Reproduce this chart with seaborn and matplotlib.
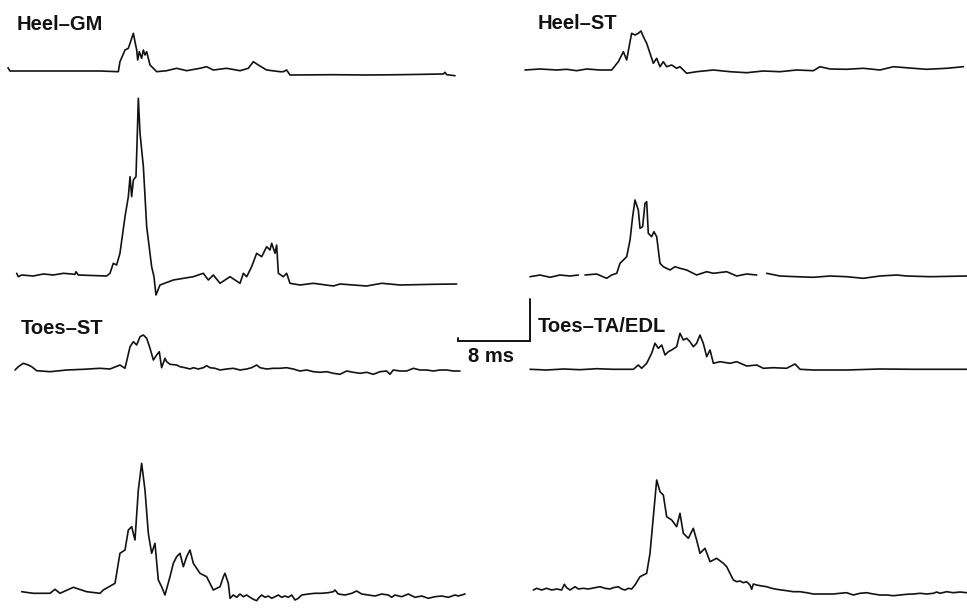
import numpy as np
import pandas as pd
import matplotlib
matplotlib.use("Agg")
import matplotlib.pyplot as plt
import seaborn as sns

# ---------------- data (time in ms from column origin, amplitude in a.u.) ----------------
heel_gm_a_t = [0, 0.22, 2.81, 10.22, 12.26, 12.44, 13.0, 13.37, 13.56, 13.93, 14.11, 14.30, 14.41, 14.59,
               14.85, 15.04, 15.22, 15.41, 15.59, 15.78, 16.15, 16.52, 17.63, 18.74, 19.85, 21.33, 22.07,
               22.81, 24.30, 25.78, 26.70, 27.26, 27.81, 28.74, 30.22, 30.59, 30.96, 31.33, 36.15, 39.85,
               43.56, 48.37, 48.56, 48.74, 49.67]
heel_gm_a_v = [3.3, 0, 0, 0, -0.7, 9.3, 21, 22.7, 27.7, 37.7, 29.3, 21, 11, 19.3,
               12.7, 21, 16, 19.3, 12.7, 6, 2.7, -0.7, 0.3, 2.7, 0.3, 2.7, 4.3,
               1, 2.7, 0.3, 2.7, 9.3, 6, 1, -0.7, -0.7, 1, -4, -3.7, -4,
               -3.7, -3, -1.3, -3.7, -4.7]

heel_gm_b_t = [0.96, 1.15, 1.52, 2.81, 3.93, 5.04, 6.15, 7.44, 7.56, 7.81, 10.96, 11.33, 11.70, 12.07,
               12.44, 13.0, 13.37, 13.56, 13.74, 13.93, 14.22, 14.37, 14.48, 14.67, 15.04, 15.41, 15.96,
               16.22, 16.44, 16.89, 18.37, 20.59, 21.70, 22.26, 22.81, 23.56, 24.67, 25.78, 26.15, 26.52,
               27.07, 27.63, 28.19, 28.74, 29.11, 29.30, 29.67, 29.85, 30.04, 30.59, 30.96, 31.33, 32.44,
               33.93, 36.15, 36.89, 39.85, 41.52, 43.56, 47.26, 49.85]
heel_gm_b_v = [1.7, -1.7, 0, -1, 1, 0, 1.7, 0.7, 3.3, 0, -1, 1.7, 11.7, 10,
               21.7, 58.3, 78.3, 98.3, 78.3, 95, 98.3, 141.7, 176.7, 141.7, 108.3, 48.3, 8.3,
               -1.7, -20, -10, -5, -1.7, 1.7, -5, 0, -8.3, -1.7, -8.3, 1.7, -1.7,
               8.3, 21.7, 18.3, 28.3, 25, 31.7, 21.7, 30, 1.7, -1.7, 1.7, -8.3, -10,
               -8.3, -11, -9, -11, -8.3, -10, -9.3, -9]

heel_st_a_t = [0, 1.67, 3.52, 4.63, 5.74, 6.85, 8.33, 9.63, 10.37, 10.93, 11.30, 11.67, 11.85, 12.22,
               12.59, 12.89, 13.15, 13.52, 13.89, 14.26, 14.63, 15.0, 15.37, 15.74, 16.30, 16.85, 17.22,
               17.96, 19.07, 20.93, 22.78, 24.63, 26.48, 28.33, 30.19, 32.04, 32.78, 33.89, 35.74, 37.59,
               39.44, 40.93, 43.15, 44.63, 46.85, 48.70]
heel_st_a_v = [0, 1, 0, 0.7, -0.7, 1, 0, 0, 8.3, 18.3, 10, 28.3, 36.7, 35,
               36.7, 39, 33.3, 26.7, 16.7, 6.7, 11.7, 3.3, 8.3, 3.3, 5, 1.7, 3.3,
               -3.3, -1.7, 0, -1.7, -2.7, -1, -1.7, 0, -0.7, 3.3, 1, 0.7, 1.7,
               0, 3.3, 1.7, 0.7, 1.7, 3.3]

heel_st_b_t = [0.56, 1.67, 2.78, 3.89, 5.0, 5.93, np.nan,
               6.67, 7.96, 9.07, 9.63, 10.19, 10.56, 10.93, 11.30, 11.67, 11.96, 12.22, 12.59, 12.78,
               13.07, 13.33, 13.52, 13.70, 14.07, 14.33, 14.63, 15.0, 15.37, 16.11, 16.67, 17.22, 17.96,
               19.07, 20.19, 20.93, 22.41, 23.52, 24.63, 25.74, np.nan,
               26.85, 28.33, 30.19, 32.04, 33.89, 35.74, 37.59, 39.44, 41.30, 42.41, 45.0, 49.07]
heel_st_b_v = [-0.7, 1, -1.3, 1, 0, 1, np.nan,
               1, 2, -2.3, 1, 2.7, 12.7, 16, 19.3, 36, 59.3, 76, 66, 47.7,
               49.3, 72.7, 74.3, 42.7, 39.3, 44.3, 39.3, 12.7, 9.3, 6, 9.3, 7.7, 6,
               1, 4.3, 2.7, 4.3, 0, 2, 1, np.nan,
               2.7, 0, -0.7, -1.3, 0, -0.7, -2.3, 0, 1, 0, -0.7, 0]

toes_st_a_t = [0.78, 1.15, 1.70, 2.26, 2.63, 3.19, 4.67, 6.52, 8.37, 10.22, 11.33, 12.44, 13.0, 13.56,
               13.93, 14.30, 14.67, 15.04, 15.41, 15.78, 16.15, 16.52, 16.81,
               17.07, 17.44, 17.63, 18.0, 18.74, 19.11, 19.67, 20.22, 20.59, 21.15, 21.70, 22.07, 22.44,
               23.0, 23.56, 24.30, 25.04, 25.78, 26.52, 27.07, 27.63, 28.0, 28.74, 29.48, 30.22, 30.96,
               31.70, 32.44, 33.19, 33.93, 34.67, 35.41, 36.15, 36.89, 37.63, 38.37, 39.11, 39.85, 40.59,
               41.33, 42.07, 42.44, 42.81, 43.56, 44.30, 45.04, 45.78, 46.52, 47.26, 48.0, 48.74, 49.48,
               50.22]
toes_st_a_v = [0, 3.3, 6.7, 5, 3.3, -0.7, -1.7, 0, 0.7, 1.7, 1, 5, 1.7, 23.3,
               28.3, 25, 33.3, 35, 31.7, 21.7, 10, 15, 18.3,
               2.3, 11.7, 8.3, 5.7, 5, 3.3, 2.3, 1, 2.3, 1, 2.3, 4.3, 2.3,
               1.7, 0, 1, 1.7, 0, 1, 2.3, 5, 2.3, 1, 1.7, 1.7, 2.3,
               1, -1, 0, -1.7, -2.3, -1.7, -3.3, -4.3, -1, -2.3, -3.3, -2.3, -4.3,
               -1.7, -1, -4.3, 0, -1, -1, 1.7, 0, 0, -1, 0, 0, -1,
               -1]

toes_st_b_t = [1.52, 2.81, 4.67, 5.22, 5.78, 7.26, 8.74, 10.22, 10.59, 11.89, 12.44, 13.0, 13.37, 13.74,
               14.11, 14.48, 14.85, 15.22, 15.59, 15.96, 16.33, 16.70, 17.07, 17.44, 18.0, 18.37, 18.74,
               19.11, 19.48, 19.85, 20.22, 20.59, 21.33, 22.07, 22.81, 23.56, 23.93, 24.11, 24.48, 24.67,
               25.04, 25.41, 25.78, 26.15, 26.52, 26.89, 27.26, 27.63, 27.81, 28.19, 28.56, 28.93, 29.30,
               29.67, 30.04, 30.41, 30.78, 31.15, 31.52, 31.89, 32.26, 32.63, 33.37, 34.11, 34.85, 35.59,
               36.15, 36.33, 36.70, 37.44, 38.19, 38.74, 39.30, 40.04, 40.78, 41.52, 42.26, 42.63, 43.0,
               43.74, 44.48, 45.22, 45.96, 46.70, 47.44, 48.19, 48.93, 49.67, 50.04, 50.78]
toes_st_b_v = [0.3, -1.3, -1.3, 2.7, -1.3, 4.7, 0.3, -1.3, 2, 8.7, 38.7, 42, 62, 65.3,
               52, 102, 128.7, 102, 58.7, 38.7, 48.7, 12, 5.3, -3, 15.3, 28.7, 35.3,
               38.7, 25.3, 35.3, 42, 28.7, 18.7, 15.3, 2, 5.3, 15.3, 18.7, 8.7, -6.3,
               -3, -5.3, -2, -4.7, -3, -5.3, -7.3, -8.7, -6.3, -3, -5.3, -4, -6.3,
               -4.7, -3, -5.3, -4, -5.3, -3, -8, -6.3, -3, -2, -1.3, -1.3, -0.7,
               0.3, 2, -2, -3, -1.3, 1, -2, -3, -4, -2, -3, -5.3, -3,
               -4.7, -2, -5.3, -4, -6.3, -4.7, -4, -5.3, -3, -4, -2]

toes_ta_a_t = [0.56, 2.41, 4.26, 6.11, 7.96, 9.81, 12.04, 12.59, 12.96, 13.52, 14.07, 14.44, 14.81, 15.19,
               15.56, 15.93, 16.30, 16.85, 17.22, 17.59, 17.96, 18.33, 18.70, 19.07, 19.44, 19.81, 20.19,
               20.56, 20.93, 21.67, 22.78, 23.52, 24.63, 25.74, 26.48, 27.59, 29.07, 30.0, 30.56, 32.04,
               35.74, 39.44, 43.15, 49.07]
toes_ta_a_v = [-0.3, -1, 0, -0.7, 0.3, -0.3, -0.3, 4, 0.7, 5.7, 15.7, 25.7, 20.7, 24,
               14, 17.3, 19, 22.3, 35.7, 29, 30.7, 27.3, 22.3, 25.7, 34, 25.7, 12.3,
               19, 5.7, 7.3, 5.7, 7.3, 3, 4, 0.7, 1.3, 0.7, 5, -0.3, -1,
               -1, 0, -0.3, -0.3]

toes_ta_b_t = [0.93, 1.30, 1.85, 2.41, 2.96, 3.52, 4.07, 4.37, 4.63, 5.0, 5.56, 5.93, 6.48, 7.04,
               7.78, 8.33, 8.89, 9.44, 9.81, 10.37, 10.74, 11.11, 11.48, 11.85, 12.22, 12.78, 13.52,
               13.89, 14.26, 14.63, 15.0, 15.37, 15.74, 16.30, 16.85, 17.22, 17.59, 18.15, 18.70, 19.07,
               19.44, 20.0, 20.56, 21.30, 22.04, 22.41, 23.15, 23.52, 23.89, 24.26, 24.63, 25.0, 25.19,
               25.37, 25.74, 26.30, 26.85, 27.41, 27.96, 28.52, 29.07, 29.81, 30.56, 31.30, 32.04, 32.78,
               33.52, 34.26, 35.0, 35.74, 36.48, 37.22, 37.96, 38.70, 39.44, 40.19, 40.93, 41.67, 42.41,
               43.15, 43.89, 44.63, 45.37, 45.74, 46.11, 46.85, 47.59, 48.33, 49.07]
toes_ta_b_v = [-2, -0.3, -2, -0.3, -2, -1, -2, 3.7, 0.3, -2, 1.3, -1, -0.3, -1,
               0.3, 1.3, -0.3, -1, 0.3, 1.3, -1, -2, -0.3, -1, 3, 11.3, 14.7,
               34.7, 71.3, 108, 96.3, 93, 71.3, 68, 61.3, 74.7, 54.7, 49.7, 59.7, 48,
               34.7, 39.7, 26.3, 29.7, 24.7, 21.3, 8, 6.3, 7, 5.3, 6.3, 3, -1.3,
               4, 3, 2, 1.3, -0.3, -1.3, -2, -2.7, -3.7, -3.7, -4.7, -6, -6,
               -6, -6, -5.3, -4.7, -7, -5.3, -4.7, -6, -7, -7, -7.7, -7, -6.3,
               -6, -5.3, -6, -5.3, -4, -5.3, -3.7, -4.7, -4, -4.7]

panel_labels = ["Heel\u2013GM", "Heel\u2013ST", "Toes\u2013ST", "Toes\u2013TA/EDL"]
scale_time_ms = 8
scale_amp = 42
scale_label = "8 ms"

# ---------------- layout ----------------
W, H = 967, 608
PX_PER_MS = 9.0
LEFT_X0 = 8 / PX_PER_MS
RIGHT_X0 = 525 / PX_PER_MS

traces = [
    (heel_gm_a_t, heel_gm_a_v, LEFT_X0, H - 71),
    (heel_gm_b_t, heel_gm_b_v, LEFT_X0, H - 275),
    (heel_st_a_t, heel_st_a_v, RIGHT_X0, H - 70),
    (heel_st_b_t, heel_st_b_v, RIGHT_X0, H - 276),
    (toes_st_a_t, toes_st_a_v, LEFT_X0, H - 370),
    (toes_st_b_t, toes_st_b_v, LEFT_X0, H - 592),
    (toes_ta_a_t, toes_ta_a_v, RIGHT_X0, H - 369),
    (toes_ta_b_t, toes_ta_b_v, RIGHT_X0, H - 588),
]

sns.set_theme(style="white")
plt.rcParams["font.family"] = ["Liberation Sans", "DejaVu Sans"]

fig = plt.figure(figsize=(W / 100, H / 100), dpi=100)
fig.patch.set_facecolor("white")
ax = fig.add_axes([0, 0, 1, 1])
ax.set_xlim(0, W / PX_PER_MS)
ax.set_ylim(0, H)
ax.axis("off")

INK = "#121212"
for t, v, x0, y0 in traces:
    df = pd.DataFrame({"t": np.asarray(t, float) + x0, "v": np.asarray(v, float) + y0})
    df["seg"] = df["t"].isna().cumsum()
    df = df.dropna()
    sns.lineplot(data=df, x="t", y="v", units="seg", estimator=None, sort=False,
                 color=INK, lw=1.2, ax=ax, legend=False)

# panel labels
label_pos = [(17, 30), (538, 29), (21, 334), (538, 332)]
for lab, (px, py) in zip(panel_labels, label_pos):
    ax.text(px / PX_PER_MS, H - py, lab, fontsize=14.5, fontweight="bold", color=INK,
            va="baseline", ha="left")

# scale bar
sx1 = 530 / PX_PER_MS
sx0 = sx1 - scale_time_ms
sy0 = H - 341
ax.plot([sx0, sx0, sx1, sx1], [sy0 + 3, sy0, sy0, sy0 + scale_amp], color=INK, lw=1.4,
        solid_joinstyle="miter")
ax.text((sx0 + sx1) / 2 - 0.3, H - 362, scale_label, fontsize=14.5, fontweight="bold", color=INK,
        ha="center", va="baseline")

fig.savefig("out.png", dpi=100, facecolor="white")
